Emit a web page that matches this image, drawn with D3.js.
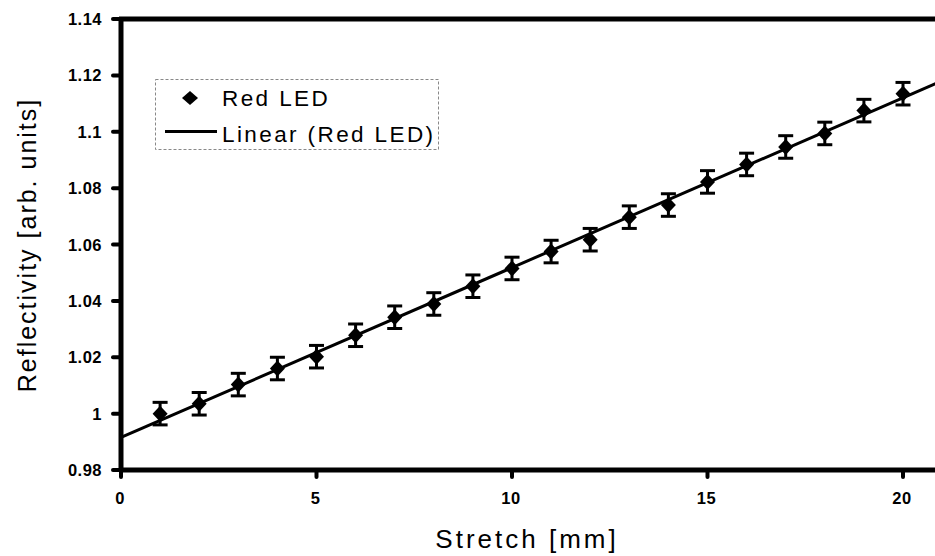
<!DOCTYPE html>
<html>
<head>
<meta charset="utf-8">
<script src="https://cdn.jsdelivr.net/npm/d3@7"></script>
<style>
  html, body { margin: 0; padding: 0; background: #fff; }
  svg { display: block; }
</style>
</head>
<body>
<script>
// Reflectivity vs. stretch, Red LED, with error bars and linear trend line
const stretch = [1, 2, 3, 4, 5, 6, 7, 8, 9, 10, 11, 12, 13, 14, 15, 16, 17, 18, 19, 20];
const reflectivity = [1.0000, 1.0035, 1.0103, 1.0160, 1.0202, 1.0278, 1.0342, 1.0389, 1.0452, 1.0515,
                      1.0575, 1.0617, 1.0697, 1.0740, 1.0822, 1.0884, 1.0946, 1.0994, 1.1075, 1.1135];
const errorHalf = [0.004, 0.004, 0.004, 0.004, 0.004, 0.004, 0.004, 0.004, 0.004, 0.004,
                   0.004, 0.004, 0.004, 0.004, 0.004, 0.004, 0.004, 0.004, 0.004, 0.004];
const xTicks = [0, 5, 10, 15, 20];
const yTicks = [0.98, 1.0, 1.02, 1.04, 1.06, 1.08, 1.1, 1.12, 1.14];
const yTickLabels = ["0.98", "1", "1.02", "1.04", "1.06", "1.08", "1.1", "1.12", "1.14"];

const W = 935, H = 556;
const svg = d3.select("body").append("svg").attr("width", W).attr("height", H);

const x = d3.scaleLinear().domain([0, 25]).range([121, 121 + 25 * 39.1]);
const y = d3.scaleLinear().domain([0.98, 1.14]).range([470, 19]);

const font = "'Liberation Sans', Arial, Helvetica, sans-serif";

// least-squares trend line
const n = stretch.length;
const mx = d3.mean(stretch), my = d3.mean(reflectivity);
let sxy = 0, sxx = 0;
for (let i = 0; i < n; i++) {
  sxy += (stretch[i] - mx) * (reflectivity[i] - my);
  sxx += (stretch[i] - mx) ** 2;
}
const slope = sxy / sxx, intercept = my - slope * mx;

svg.append("line")
  .attr("x1", x(0)).attr("y1", y(intercept))
  .attr("x2", x(25)).attr("y2", y(intercept + slope * 25))
  .attr("stroke", "#000").attr("stroke-width", 3);

// error bars
const eb = svg.append("g").attr("stroke", "#000").attr("stroke-width", 3);
stretch.forEach((s, i) => {
  const cx = x(s), top = y(reflectivity[i] + errorHalf[i]), bot = y(reflectivity[i] - errorHalf[i]);
  eb.append("line").attr("x1", cx).attr("x2", cx).attr("y1", top).attr("y2", bot);
  eb.append("line").attr("x1", cx - 7.5).attr("x2", cx + 7.5).attr("y1", top).attr("y2", top);
  eb.append("line").attr("x1", cx - 7.5).attr("x2", cx + 7.5).attr("y1", bot).attr("y2", bot);
});

// diamond markers
const diamond = (cx, cy, rx, ry) => `M${cx},${cy - ry}L${cx + rx},${cy}L${cx},${cy + ry}L${cx - rx},${cy}Z`;
svg.append("g").selectAll("path").data(stretch).join("path")
  .attr("d", (s, i) => diamond(x(s), y(reflectivity[i]), 7.5, 8))
  .attr("fill", "#000");

// frame: left axis, bottom axis, top border
const axisG = svg.append("g").attr("stroke", "#000").attr("stroke-width", 5);
axisG.append("line").attr("x1", x(0)).attr("x2", x(0)).attr("y1", y(1.14) - 2).attr("y2", y(0.98) + 2);
axisG.append("line").attr("x1", x(0) - 2).attr("x2", W).attr("y1", y(0.98)).attr("y2", y(0.98));
axisG.append("line").attr("x1", x(0) - 2).attr("x2", W).attr("y1", y(1.14)).attr("y2", y(1.14));

// ticks
const tickG = svg.append("g").attr("stroke", "#000").attr("stroke-width", 4).attr("stroke-linecap", "round");
yTicks.forEach(v => {
  tickG.append("line").attr("x1", x(0) - 8).attr("x2", x(0)).attr("y1", y(v)).attr("y2", y(v));
});
xTicks.forEach(v => {
  tickG.append("line").attr("x1", x(v)).attr("x2", x(v)).attr("y1", y(0.98)).attr("y2", y(0.98) + 7);
});

// tick labels
svg.append("g").selectAll("text").data(yTicks).join("text")
  .attr("x", 102).attr("y", v => y(v) + 6)
  .attr("text-anchor", "end")
  .attr("font-family", font).attr("font-weight", "bold").attr("font-size", 16.5)
  .attr("letter-spacing", 0.5)
  .text((v, i) => yTickLabels[i]);

svg.append("g").selectAll("text").data(xTicks).join("text")
  .attr("x", v => x(v) - 1).attr("y", 504)
  .attr("text-anchor", "middle")
  .attr("font-family", font).attr("font-weight", "bold").attr("font-size", 16.5)
  .attr("letter-spacing", 0.5)
  .text(v => v);

// axis titles
svg.append("text")
  .attr("x", 527).attr("y", 548)
  .attr("text-anchor", "middle")
  .attr("font-family", font).attr("font-size", 26).attr("letter-spacing", 3)
  .text("Stretch [mm]");

svg.append("text")
  .attr("transform", `translate(36,${245}) rotate(-90)`)
  .attr("text-anchor", "middle")
  .attr("font-family", font).attr("font-size", 25).attr("letter-spacing", 2)
  .text("Reflectivity [arb. units]");

// legend
const lg = svg.append("g");
lg.append("rect")
  .attr("x", 155.5).attr("y", 79.5).attr("width", 283).attr("height", 70)
  .attr("fill", "#fff").attr("stroke", "#888").attr("stroke-width", 1)
  .attr("stroke-dasharray", "3,2");
lg.append("path").attr("d", diamond(190, 98, 8, 7)).attr("fill", "#000");
lg.append("line").attr("x1", 165).attr("x2", 217).attr("y1", 131.5).attr("y2", 131.5)
  .attr("stroke", "#000").attr("stroke-width", 3);
lg.append("text").attr("x", 222).attr("y", 106)
  .attr("font-family", font).attr("font-size", 22.5).attr("letter-spacing", 2.4)
  .text("Red LED");
lg.append("text").attr("x", 222).attr("y", 141.5)
  .attr("font-family", font).attr("font-size", 22.5).attr("letter-spacing", 2.4)
  .text("Linear (Red LED)");
</script>
</body>
</html>
